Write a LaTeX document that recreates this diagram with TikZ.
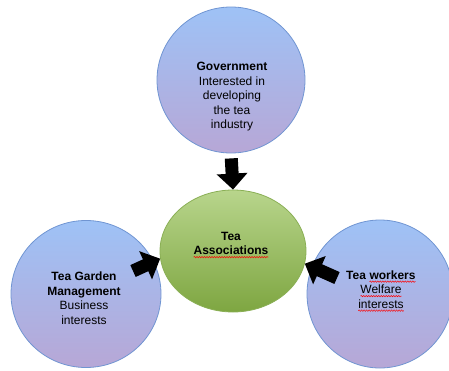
\documentclass[tikz,border=0pt]{standalone}
\usepackage{fontspec}
\setmainfont{Liberation Sans}
\usetikzlibrary{shapes.geometric,arrows.meta,decorations.pathmorphing}

\definecolor{bluetop}{HTML}{9EC2F6}
\definecolor{bluebot}{HTML}{B7A7D6}
\definecolor{blueedge}{HTML}{7095D2}
\definecolor{greentop}{HTML}{B8D58C}
\definecolor{greenbot}{HTML}{7EA641}
\definecolor{greenedge}{HTML}{8AAF55}

% red wavy underline (spell checker marks)
\newcommand\spellerr[1]{\tikz[baseline=(word.base),x=1pt,y=1pt]{%
  \node[inner sep=0pt,outer sep=0pt] (word) {#1};
  \draw[red, line width=0.5pt, decorate, decoration={snake,amplitude=0.7pt,segment length=2.5pt}]
    ([yshift=-2.5pt]word.base west) -- ([yshift=-2.5pt]word.base east);}}

\tikzset{
  party/.style={ellipse, draw=blueedge, line width=0.8pt, top color=bluetop, bottom color=bluebot},
  hub/.style={ellipse, draw=greenedge, line width=0.8pt, top color=greentop, bottom color=greenbot},
  txt/.style={align=center, font=\fontsize{12}{14.5}\selectfont, inner sep=0pt},
  push/.style={-{Triangle[length=16pt,width=30pt]}, line width=13pt, black},
}

\begin{document}
\begin{tikzpicture}[x=1pt,y=-1pt]
\useasboundingbox (0,0) rectangle (449,370);

% stakeholders
\node[party, minimum width=148pt, minimum height=146pt] (gov) at (231,80) {};
\node[party, minimum width=150pt, minimum height=147pt] (tgm) at (86,294) {};
\node[party, minimum width=146pt, minimum height=148pt] (wkr) at (380,294) {};
\node[hub, minimum width=146pt, minimum height=122pt] (assoc) at (233,251) {};

% block arrows into the association
\coordinate (tgmtail) at (133,271);
\coordinate (wkrtail) at (337,278);
\draw[push, shorten <=5pt] (gov.south) -- (assoc.north);
\draw[push] (tgmtail) -- (assoc.186);
\draw[push] (wkrtail) -- (assoc.350);

% labels
\node[txt] (govtext) at (232,97) {\textbf{Government}\\Interested in\\developing\\the tea\\industry};
\node[txt] (assoctext) at (231,245) {\textbf{Tea}\\\textbf{\spellerr{Associations}}};
\node[txt] (tgmtext) at (84,298) {\textbf{Tea Garden}\\\textbf{Management}\\Business\\interests};
\node[txt] (wkrtext) at (381,291) {\textbf{Tea \spellerr{workers}}\\\spellerr{Welfare}\\\spellerr{interests}};
\end{tikzpicture}
\end{document}
